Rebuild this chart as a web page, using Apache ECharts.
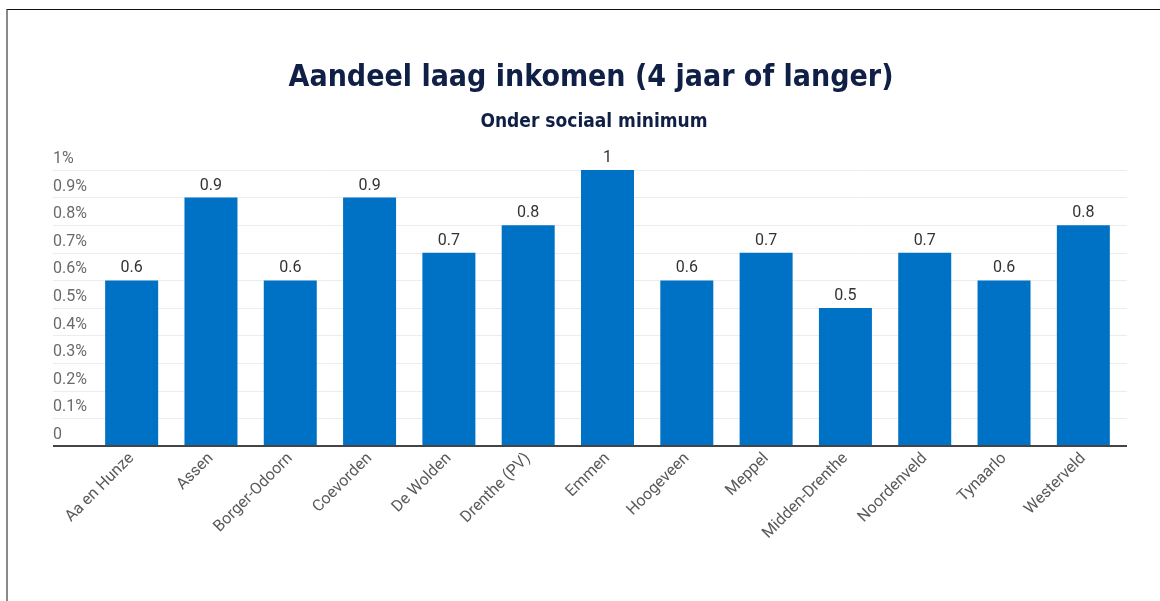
<!DOCTYPE html>
<html>
<head>
<meta charset="utf-8">
<script src="https://cdn.jsdelivr.net/npm/echarts@6/dist/echarts.min.js"></script>
<style>
  html, body { margin: 0; padding: 0; background: #fff; }
  #frame { position: absolute; left: 6px; top: 9px; width: 1154px; height: 592px;
           border-left: 2px solid #8a8a8a; border-top: 1px solid #111; }
  #main { position: absolute; left: 0; top: 0; width: 1160px; height: 601px; }
</style>
</head>
<body>
<div id="frame"></div>
<div id="main"></div>
<script>
  // gemeenten in Drenthe
  var categories = ['Aa en Hunze', 'Assen', 'Borger-Odoorn', 'Coevorden', 'De Wolden', 'Drenthe (PV)',
    'Emmen', 'Hoogeveen', 'Meppel', 'Midden-Drenthe', 'Noordenveld', 'Tynaarlo', 'Westerveld']
  var values = [0.6, 0.9, 0.6, 0.9, 0.7, 0.8, 1, 0.6, 0.7, 0.5, 0.7, 0.6, 0.8]
  var tickLabels = ['0', '0.1%', '0.2%', '0.3%', '0.4%', '0.5%', '0.6%', '0.7%', '0.8%', '0.9%', '1%']

  var myChart = echarts.init(document.getElementById('main'))
  myChart.setOption({
    animation: false,
    title: [
      {
        text: 'Aandeel laag inkomen (4 jaar of langer)',
        left: 586, top: 58, textAlign: 'center',
        textStyle: { fontFamily: 'DejaVu Sans Condensed', fontWeight: 'bold', fontSize: 30, color: '#0f1f45' }
      },
      {
        text: 'Onder sociaal minimum',
        left: 589, top: 108, textAlign: 'center',
        textStyle: { fontFamily: 'DejaVu Sans Condensed', fontWeight: 'bold', fontSize: 19, color: '#0f1f45' }
      }
    ],
    // grid 0 = gridlines + y labels, grid 1 = the bars
    grid: [
      { left: 53, right: 33, top: 170, bottom: 155 },
      { left: 92, right: 37, top: 170, bottom: 155 }
    ],
    xAxis: [
      { gridIndex: 0, type: 'value', show: false, min: 0, max: 1 },
      {
        gridIndex: 1, type: 'category', data: categories,
        axisLine: { show: false },
        axisTick: { show: false },
        axisLabel: {
          rotate: 45, interval: 0, margin: 10,
          fontFamily: 'Roboto', fontSize: 16, color: '#5a5a5a'
        }
      }
    ],
    yAxis: [
      {
        gridIndex: 0, type: 'value', min: 0, max: 1, interval: 0.1,
        axisLine: { show: false },
        axisTick: { show: false },
        splitLine: { lineStyle: { color: '#ececec', width: 1 } },
        axisLabel: {
          inside: true, margin: 0, align: 'left', verticalAlign: 'bottom',
          padding: [0, 0, 3, 0],
          fontFamily: 'Roboto', fontSize: 16, color: '#6a6a6a',
          formatter: function (v) { return tickLabels[Math.round(v * 10)] }
        }
      },
      { gridIndex: 1, type: 'value', min: 0, max: 1, show: false }
    ],
    series: [
      {
        // baseline over the full width
        type: 'line', xAxisIndex: 0, yAxisIndex: 0,
        data: [[0, 0], [1, 0]], symbol: 'none', silent: true,
        lineStyle: { color: '#444', width: 2 }, z: 5
      },
      {
        type: 'bar', xAxisIndex: 1, yAxisIndex: 1,
        data: values, barWidth: 53,
        itemStyle: { color: '#0072c6' },
        label: {
          show: true, position: 'top', distance: 4,
          fontFamily: 'Roboto', fontSize: 16, color: '#333'
        }
      }
    ]
  })
</script>
</body>
</html>
